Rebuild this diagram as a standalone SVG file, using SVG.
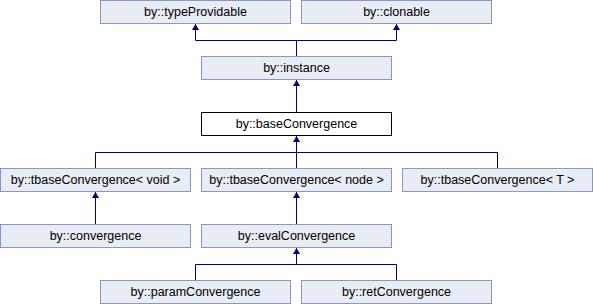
<svg xmlns="http://www.w3.org/2000/svg" width="593" height="304" viewBox="0 0 593 304">
<style>
rect.n{fill:#e8ecf4;stroke:#8499c8;stroke-width:1}
rect.cur{fill:#ffffff;stroke:#000000;stroke-width:1}
text{font-family:"Liberation Sans",Arial,sans-serif;font-size:12.5px;fill:#000;text-anchor:middle}
.c path{fill:none;stroke:#000080;stroke-width:1}
.c polygon{fill:#000080;stroke:none}
</style>
<rect width="593" height="304" fill="#ffffff"/>
<g class="c" id="connectors">
<path d="M296.5 56V40.5M195.5 40.5H396.5M195.5 40.5V24M396.5 40.5V24"/>
<polygon points="195.5,24 192,30 199,30"/>
<polygon points="396.5,24 393,30 400,30"/>
<path d="M296.5 112V80"/>
<polygon points="296.5,80 293,86 300,86"/>
<path d="M296.5 152.5V136M95.5 152.5H497.5M95.5 152.5V168M296.5 152.5V168M497.5 152.5V168"/>
<polygon points="296.5,136 293,142 300,142"/>
<path d="M95.5 224V192"/>
<polygon points="95.5,192 92,198 99,198"/>
<path d="M296.5 224V192"/>
<polygon points="296.5,192 293,198 300,198"/>
<path d="M296.5 264.5V248M195.5 264.5H396.5M195.5 264.5V280M396.5 264.5V280"/>
<polygon points="296.5,248 293,254 300,254"/>
</g>
<g id="typeProvidable"><rect class="n" x="100.5" y="0.5" width="190" height="23"/><text x="195.5" y="16">by::typeProvidable</text></g>
<g id="clonable"><rect class="n" x="301.5" y="0.5" width="190" height="23"/><text x="396.5" y="16">by::clonable</text></g>
<g id="instance"><rect class="n" x="201.5" y="56.5" width="190" height="23"/><text x="296.5" y="72">by::instance</text></g>
<g id="baseConvergence"><rect class="cur" x="201.5" y="112.5" width="190" height="23"/><text x="296.5" y="128">by::baseConvergence</text></g>
<g id="tbaseVoid"><rect class="n" x="0.5" y="168.5" width="190" height="23"/><text x="95.5" y="184">by::tbaseConvergence&lt; void &gt;</text></g>
<g id="tbaseNode"><rect class="n" x="201.5" y="168.5" width="190" height="23"/><text x="296.5" y="184">by::tbaseConvergence&lt; node &gt;</text></g>
<g id="tbaseT"><rect class="n" x="402.5" y="168.5" width="190" height="23"/><text x="497.5" y="184">by::tbaseConvergence&lt; T &gt;</text></g>
<g id="convergence"><rect class="n" x="0.5" y="224.5" width="190" height="23"/><text x="95.5" y="240">by::convergence</text></g>
<g id="evalConvergence"><rect class="n" x="201.5" y="224.5" width="190" height="23"/><text x="296.5" y="240">by::evalConvergence</text></g>
<g id="paramConvergence"><rect class="n" x="100.5" y="280.5" width="190" height="23"/><text x="195.5" y="296">by::paramConvergence</text></g>
<g id="retConvergence"><rect class="n" x="301.5" y="280.5" width="190" height="23"/><text x="396.5" y="296">by::retConvergence</text></g>
</svg>
